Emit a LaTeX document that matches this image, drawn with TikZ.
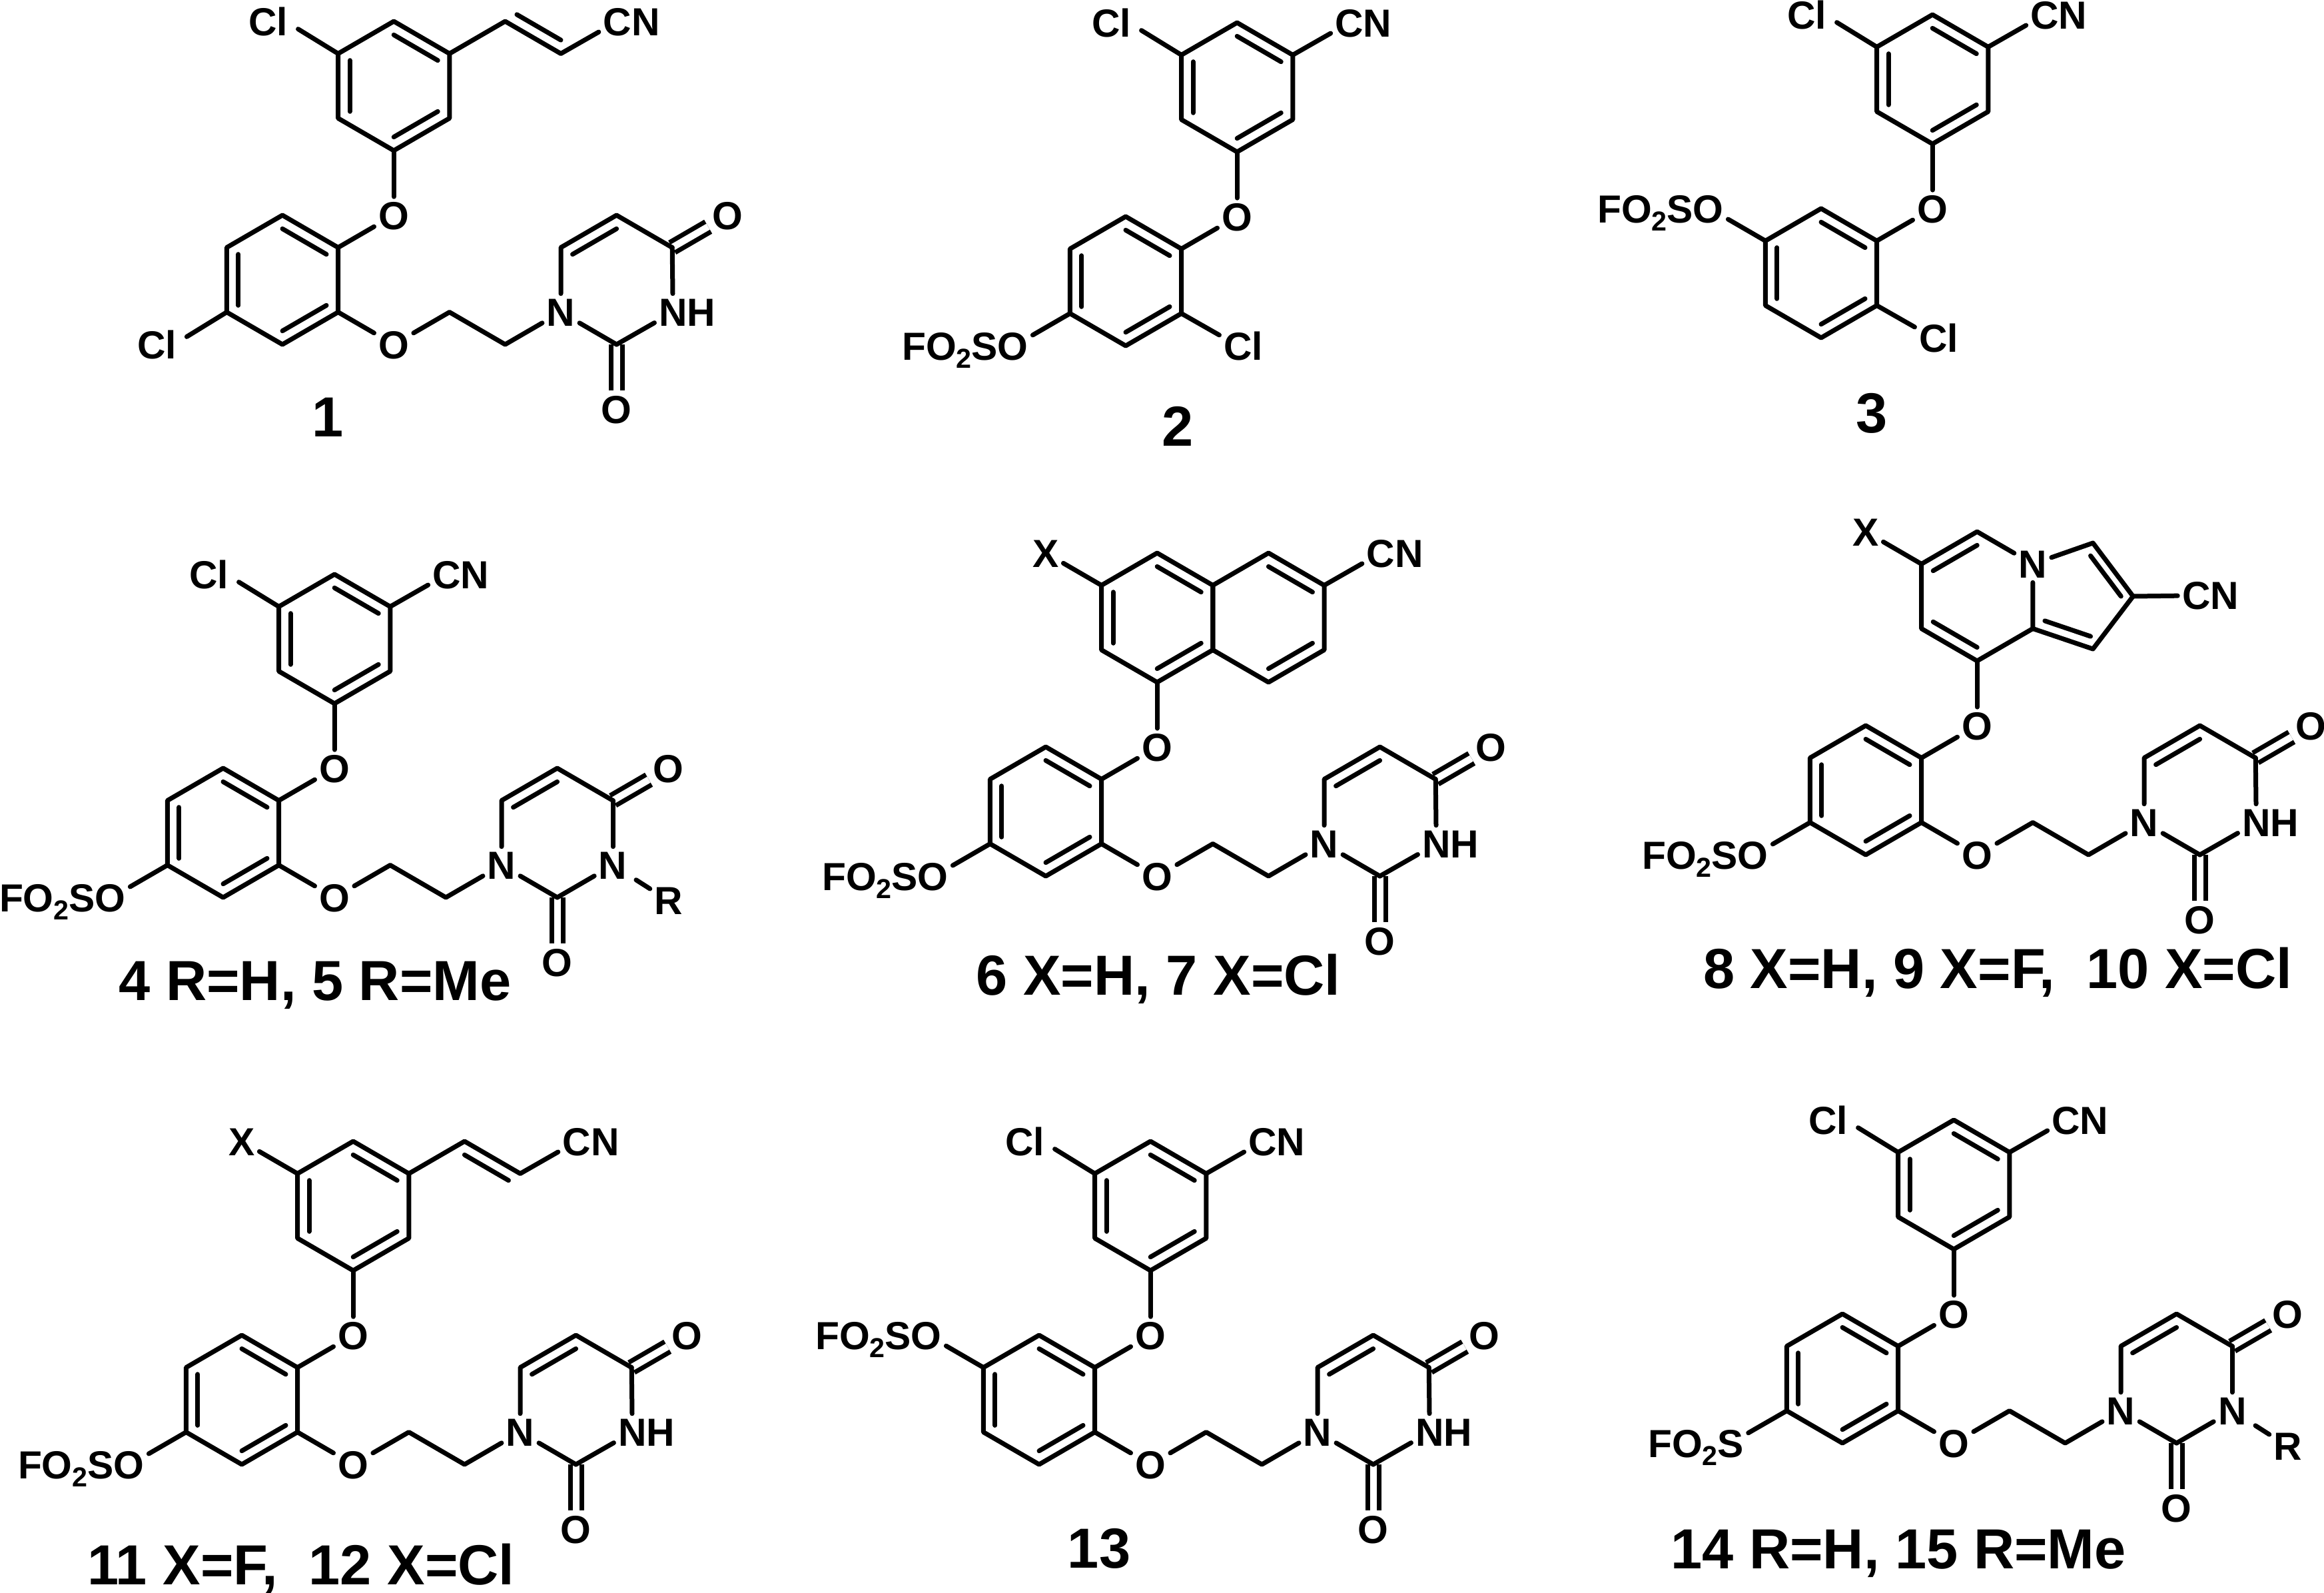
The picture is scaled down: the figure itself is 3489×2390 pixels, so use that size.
\documentclass[tikz,border=0pt]{standalone}
\usepackage{fontspec}
\setmainfont{Liberation Sans}
\usetikzlibrary{calc}

% inner line of a double bond, pulled towards the ring centre
\newcommand{\ib}[4][.79]{\draw[bond] ($(#2)!#1!(#3)$) -- ($(#2)!#1!(#4)$);}
\newcommand{\subtwo}{\raisebox{-3pt}{\fontsize{10.3}{10}\selectfont 2}}

\newcommand{\hexring}[2]{%
    \coordinate (#1c) at (#2);
    \coordinate (#1t) at ($(#1c)+(0,-2)$);
    \coordinate (#1ur) at ($(#1c)+(1,-1)$);
    \coordinate (#1lr) at ($(#1c)+(1,1)$);
    \coordinate (#1b) at ($(#1c)+(0,2)$);
    \coordinate (#1ll) at ($(#1c)+(-1,1)$);
    \coordinate (#1ul) at ($(#1c)+(-1,-1)$);
    \draw[bond] (#1t) -- (#1ur) -- (#1lr) -- (#1b) -- (#1ll) -- (#1ul) -- cycle;
}
\newcommand{\benzene}[2]{%
    \hexring{#1}{#2}
    \ib{#1c}{#1t}{#1ur}
    \ib{#1c}{#1lr}{#1b}
    \ib{#1c}{#1ll}{#1ul}
}
% lower ring and the ether oxygen above it
\newcommand{\core}[1]{%
    \benzene{#1b}{0,0}
    \node[atom] (#1o) at (2,-2) {O};
    \draw[bond] (#1ab) -- (#1o);
    \draw[bond] (#1bur) -- (#1o);
}
% O-CH2-CH2 chain and the uracil ring
\newcommand{\tail}[1]{%
    \node[atom] (#1p) at (2,2) {O};
    \coordinate (#1e) at (3,1);
    \coordinate (#1f) at (4,2);
    \coordinate (#1uc) at (6,0);
    \coordinate (#1c6) at (5,-1);
    \coordinate (#1c5) at (6,-2);
    \coordinate (#1c4) at (7,-1);
    \coordinate (#1c2) at (6,2);
    \node[atom] (#1n) at (5,1) {N};
    \node[atom] (#1q) at (8,-2) {O};
    \node[atom] (#1r) at (6,4) {O};
    \draw[dbond] (#1c4) -- (#1q);
    \draw[dbond] (#1c2) -- (#1r);
    \draw[bond] (#1blr) -- (#1p);
    \draw[bond] (#1p) -- (#1e) -- (#1f) -- (#1n);
    \draw[bond] (#1n) -- (#1c6) -- (#1c5) -- (#1c4);
    \draw[bond] (#1c2) -- (#1n);
    \ib{#1uc}{#1c6}{#1c5}
}
\newcommand{\nh}[1]{%
    \node[atom,anchor=west] (#1h) at (6.68,1) {NH};
    \draw[bond] (#1c4) -- (#1h.128);
    \draw[bond] (#1c2) -- (#1h.198);
}
\newcommand{\nr}[1]{%
    \node[atom] (#1h) at (7,1) {N};
    \node[atom] (#1g) at (8,2.1) {R};
    \draw[bond] (#1c4) -- (#1h);
    \draw[bond] (#1c2) -- (#1h);
    \draw[bond,shorten <=2pt] (#1h) -- (#1g);
}
\newcommand{\topcl}[1]{%
    \node[atom,anchor=east] (#1x) at (.18,-8) {Cl};
    \draw[bond,shorten >=2.5pt] (#1aul) -- (#1x.-10);
}
\newcommand{\topx}[1]{%
    \node[atom] (#1x) at (0,-8) {X};
    \draw[bond] (#1aul) -- (#1x);
}
\newcommand{\topcn}[1]{%
    \node[atom,anchor=west] (#1w) at (3.68,-8) {CN};
    \draw[bond] (#1aur) -- (#1w.198);
}
\newcommand{\vinyl}[2]{%
    \coordinate (#1v) at (4,-8);
    \coordinate (#1y) at (5,-7);
    \coordinate (#1vc) at #2;
    \node[atom,anchor=west] (#1w) at (5.68,-8) {CN};
    \draw[bond] (#1aur) -- (#1v) -- (#1y) -- (#1w.198);
    \ib{#1vc}{#1v}{#1y}
}
\newcommand{\lowso}[1]{%
    \node[atom,anchor=east] (#1s) at (-1.67,2) {FO\subtwo SO};
    \draw[bond] (#1bll) -- (#1s.9);
}
\newcommand{\highso}[1]{%
    \node[atom,anchor=east] (#1s) at (-1.67,-2) {FO\subtwo SO};
    \draw[bond] (#1bul) -- (#1s.-9);
}
\newcommand{\lowcl}[1]{%
    \node[atom,anchor=west] (#1k) at (1.68,2) {Cl};
    \draw[bond] (#1blr) -- (#1k.156);
}

\begin{document}
\begin{tikzpicture}[x=.25pt,y=-.25pt,
        lattice/.style = {x=20.9pt,y=-12.125pt},
        bond/.style = {line width=1.75pt,line cap=round,line join=round},
        dbond/.style = {line width=1.75pt,double,double distance=2.55pt},
        atom/.style = {font=\fontsize{14.7}{16}\selectfont\bfseries,inner sep=1.5pt,text height=10.5pt,text depth=0pt},
        tag/.style = {font=\fontsize{21.2}{24}\selectfont\bfseries,inner sep=0pt,text height=15pt,text depth=0pt}]
    \useasboundingbox (0,0) rectangle (3489,2390);

    % top row
    \begin{scope}[shift={(424,420)},lattice]
        \benzene{m1a}{2,-6}
        \core{m1}
        \tail{m1}
        \nh{m1}
        \topcl{m1}
        \vinyl{m1}{(5,-9)}
        \node[atom,anchor=east] (m1k) at (-1.82,2) {Cl};
        \draw[bond,shorten >=2.5pt] (m1bll) -- (m1k.10);
    \end{scope}
    \begin{scope}[shift={(1690,422)},lattice]
        \benzene{m2a}{2,-6}
        \core{m2}
        \topcl{m2}
        \topcn{m2}
        \lowso{m2}
        \lowcl{m2}
    \end{scope}
    \begin{scope}[shift={(2734,410)},lattice]
        \benzene{m3a}{2,-6}
        \core{m3}
        \topcl{m3}
        \topcn{m3}
        \highso{m3}
        \lowcl{m3}
    \end{scope}

    % middle row
    \begin{scope}[shift={(335,1250)},lattice]
        \benzene{m4a}{2,-6}
        \core{m4}
        \tail{m4}
        \nr{m4}
        \topcl{m4}
        \topcn{m4}
        \lowso{m4}
    \end{scope}
    \begin{scope}[shift={(1570,1218)},lattice]
        \benzene{m6a}{2,-6}
        \hexring{m6d}{4,-6}
        \ib{m6dc}{m6dt}{m6dur}
        \ib{m6dc}{m6dlr}{m6db}
        \core{m6}
        \tail{m6}
        \nh{m6}
        \topx{m6}
        \node[atom,anchor=west] (m6w) at (5.68,-8) {CN};
        \draw[bond] (m6dur) -- (m6w.198);
        \lowso{m6}
    \end{scope}
    \begin{scope}[shift={(2801,1186)},lattice]
        \coordinate (m8ac) at (2,-6);
        \coordinate (m8at) at (2,-8);
        \coordinate (m8aul) at (1,-7);
        \coordinate (m8all) at (1,-5);
        \coordinate (m8ab) at (2,-4);
        \coordinate (m8alr) at (3,-5);
        \coordinate (m8i) at (4.08,-7.65);
        \coordinate (m8j) at (4.8,-6);
        \coordinate (m8l) at (4.08,-4.37);
        \coordinate (m8d) at (3.9,-6);
        \node[atom] (m8z) at (3,-7) {N};
        \node[atom,anchor=west] (m8w) at (5.6,-6.03) {CN};
        \draw[bond] (m8z) -- (m8at) -- (m8aul) -- (m8all) -- (m8ab) -- (m8alr) -- (m8z);
        \draw[bond] (m8z) -- (m8i) -- (m8j) -- (m8l) -- (m8alr);
        \draw[bond] (m8j) -- (m8w);
        \ib{m8ac}{m8at}{m8aul}
        \ib{m8ac}{m8all}{m8ab}
        \ib[.76]{m8d}{m8i}{m8j}
        \ib[.76]{m8d}{m8l}{m8alr}
        \core{m8}
        \tail{m8}
        \nh{m8}
        \topx{m8}
        \lowso{m8}
    \end{scope}

    % bottom row
    \begin{scope}[shift={(363,2101)},lattice]
        \benzene{m11a}{2,-6}
        \core{m11}
        \tail{m11}
        \nh{m11}
        \topx{m11}
        \vinyl{m11}{(4,-6)}
        \lowso{m11}
    \end{scope}
    \begin{scope}[shift={(1560,2101)},lattice]
        \benzene{m13a}{2,-6}
        \core{m13}
        \tail{m13}
        \nh{m13}
        \topcl{m13}
        \topcn{m13}
        \highso{m13}
    \end{scope}
    \begin{scope}[shift={(2766,2069)},lattice]
        \benzene{m14a}{2,-6}
        \core{m14}
        \tail{m14}
        \nr{m14}
        \topcl{m14}
        \topcn{m14}
        \node[atom,anchor=east] (m14s) at (-1.69,2) {FO\subtwo S};
        \draw[bond] (m14bll) -- (m14s.11);
    \end{scope}

    \node[tag] (t1) at (492,625) {1};
    \node[tag] (t2) at (1768,639) {2};
    \node[tag] (t3) at (2810,619) {3};
    \node[tag] (t4) at (473,1471) {4 R=H, 5 R=Me};
    \node[tag] (t6) at (1739,1463) {6 X=H, 7 X=Cl};
    \node[tag] (t8) at (2999,1453) {8 X=H, 9 X=F,\ \ 10 X=Cl};
    \node[tag] (t11) at (452,2348) {11 X=F,\ \ 12 X=Cl};
    \node[tag] (t13) at (1650,2323) {13};
    \node[tag] (t14) at (2850,2324) {14 R=H, 15 R=Me};
\end{tikzpicture}
\end{document}
